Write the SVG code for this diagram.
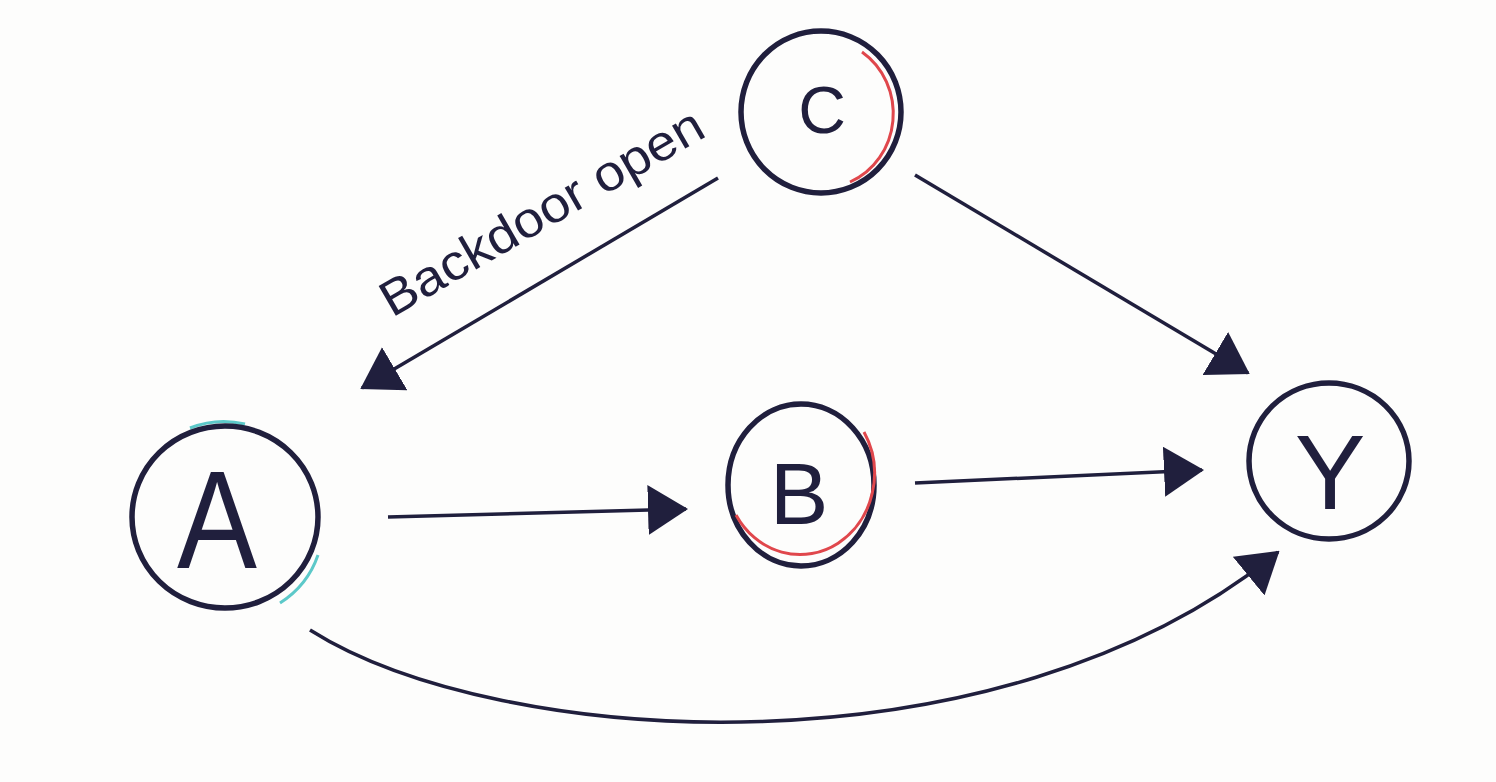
<svg xmlns="http://www.w3.org/2000/svg" width="1496" height="782" viewBox="0 0 1496 782">
<style>
.bg{fill:#fdfdfc}
.ring{fill:none;stroke:#201f3d;stroke-width:5.5}
.red{fill:none;stroke:#e0474c;stroke-width:3}
.cyan{fill:none;stroke:#5cc9c9;stroke-width:3}
.edge{fill:none;stroke:#201f3d;stroke-width:3.5;marker-end:url(#ah)}
.lbl{fill:#201f3d;font-family:"Liberation Sans",Arial,sans-serif}
</style>
<defs>
<marker id="ah" viewBox="0 0 40 50" refX="38" refY="25" markerWidth="40" markerHeight="50" markerUnits="userSpaceOnUse" orient="auto">
<path d="M0,0 L40,25 L0,50 z" fill="#201f3d"/>
</marker>
</defs>
<rect class="bg" x="0" y="0" width="1496" height="782"/>
<g id="connectors">
<path id="e-C-A" class="edge" d="M718,178 L362,388"/>
<path id="e-C-Y" class="edge" d="M915,175 L1248,373"/>
<path id="e-A-B" class="edge" d="M388,517 L686,509"/>
<path id="e-B-Y" class="edge" d="M915,483 L1202,470"/>
<path id="e-A-Y" class="edge" d="M310,630 C500,750 1000,780 1278,552"/>
<text class="lbl" x="392" y="318" font-size="50" transform="rotate(-30 392 318)" textLength="365" lengthAdjust="spacingAndGlyphs">Backdoor open</text>
</g>
<g id="node-C">
<ellipse class="ring" cx="821" cy="112" rx="80" ry="81"/>
<path class="red" d="M862,52 A70 74 0 0 1 850,182"/>
<text class="lbl" x="822" y="133" font-size="66" text-anchor="middle">C</text>
</g>
<g id="node-A">
<path class="cyan" d="M190,428 A92 92 0 0 1 245,424"/>
<path class="cyan" d="M318,555 A95 92 0 0 1 280,603"/>
<ellipse class="ring" cx="225" cy="517" rx="93" ry="91"/>
<text class="lbl" x="217" y="568" font-size="140" text-anchor="middle" textLength="80" lengthAdjust="spacingAndGlyphs">A</text>
</g>
<g id="node-B">
<ellipse class="ring" cx="801" cy="485" rx="73" ry="81"/>
<path class="red" d="M736,515 A68 74 0 0 0 864,432"/>
<text class="lbl" x="799" y="524" font-size="88" text-anchor="middle" font-family="Liberation Serif">B</text>
</g>
<g id="node-Y">
<ellipse class="ring" cx="1329" cy="461" rx="80" ry="78"/>
<text class="lbl" x="1330" y="509" font-size="106" text-anchor="middle">Y</text>
</g>
</svg>
